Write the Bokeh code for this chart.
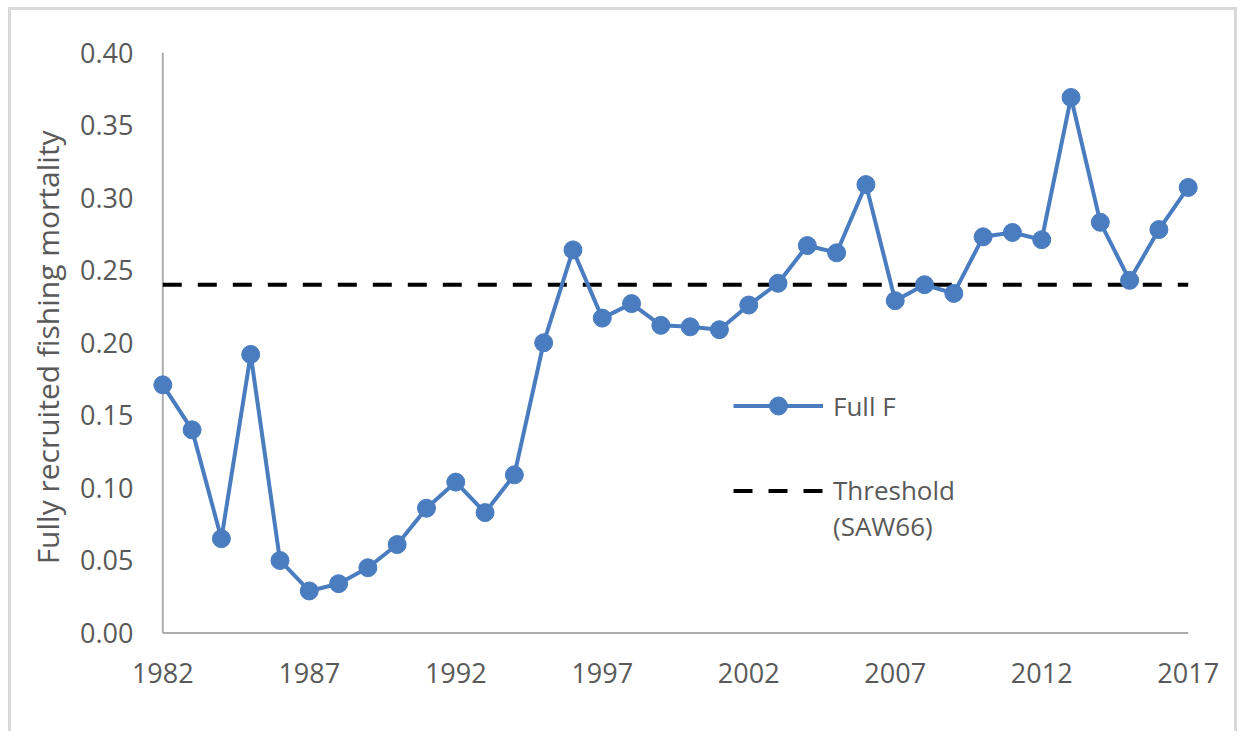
from bokeh.plotting import figure
from bokeh.models import Range1d, FixedTicker, NumeralTickFormatter, Legend, LegendItem
from bokeh.embed import file_html
from bokeh.resources import INLINE

years = list(range(1982, 2018))
full_f = [0.171, 0.140, 0.065, 0.192, 0.050, 0.029, 0.034, 0.045, 0.061, 0.086,
          0.104, 0.083, 0.109, 0.200, 0.264, 0.217, 0.227, 0.212, 0.211, 0.209,
          0.226, 0.241, 0.267, 0.262, 0.309, 0.229, 0.240, 0.234, 0.273, 0.276,
          0.271, 0.369, 0.283, 0.243, 0.278, 0.307]
threshold = 0.24
x_ticks = [1982, 1987, 1992, 1997, 2002, 2007, 2012, 2017]
y_ticks = [0.0, 0.05, 0.10, 0.15, 0.20, 0.25, 0.30, 0.35, 0.40]
y_title = "Fully recruited  fishing mortality"
series_name = "Full F"
threshold_name = ["Threshold", "(SAW66)"]

BLUE = "#4A7CC0"
TXT = "#595959"
AXC = "#ADADAD"
FONT = "Open Sans"

p = figure(width=1229, height=724, output_backend="svg", toolbar_location=None,
           title=None,
           x_range=Range1d(years[0] - 1, years[-1] + 1),
           y_range=Range1d(-0.001, y_ticks[-1]),
           min_border_left=122, min_border_right=23, min_border_top=42, min_border_bottom=100,
           background_fill_color="white", border_fill_color="white",
           outline_line_color=None,
           styles={"margin-left": "8px", "margin-top": "7px",
                   "border-left": "3px solid #D9D9D9", "border-top": "3px solid #D9D9D9",
                   "border-right": "3px solid #D9D9D9"})

p.xgrid.visible = False
p.ygrid.visible = False

for ax in (p.xaxis[0], p.yaxis[0]):
    ax.axis_line_color = None
    ax.major_tick_line_color = None
    ax.minor_tick_line_color = None
    ax.major_tick_out = 0
    ax.major_tick_in = 0
    ax.minor_tick_out = 0
    ax.major_label_text_font = FONT
    ax.major_label_text_font_size = "27px"
    ax.major_label_text_color = TXT

p.xaxis.ticker = FixedTicker(ticks=x_ticks)
p.xaxis.major_label_standoff = 28
p.yaxis.ticker = FixedTicker(ticks=y_ticks)
p.yaxis.formatter = NumeralTickFormatter(format="0.00")
p.yaxis.major_label_standoff = 0
p.yaxis.axis_label = y_title
p.yaxis.axis_label_text_font = FONT
p.yaxis.axis_label_text_font_size = "30px"
p.yaxis.axis_label_text_font_style = "normal"
p.yaxis.axis_label_text_color = TXT
p.yaxis.axis_label_standoff = 9

# axis lines drawn over the data extent
p.line(x=[years[0], years[-1]], y=[0, 0], line_color=AXC, line_width=2)
p.line(x=[years[0], years[0]], y=[0, y_ticks[-1]], line_color=AXC, line_width=2)

r_thr = p.line(x=[years[0], years[-1]], y=[threshold, threshold], line_color="black",
               line_width=4, line_dash="19 16")
r_line = p.line(x=years, y=full_f, line_color=BLUE, line_width=4)
r_pts = p.scatter(x=years, y=full_f, size=18, fill_color=BLUE, line_color=BLUE)
r_dummy = p.line(x=[years[0], years[-1]], y=[threshold, threshold], line_alpha=0)

def style_legend(lg):
    lg.border_line_alpha = 0
    lg.background_fill_alpha = 0
    lg.padding = 0
    lg.margin = 0
    lg.spacing = 0
    lg.glyph_width = 90
    lg.label_standoff = 10
    lg.label_text_font = FONT
    lg.label_text_font_size = "26px"
    lg.label_text_color = TXT

lg1 = Legend(items=[LegendItem(label=series_name, renderers=[r_line, r_pts])],
             location=(600, 206))
style_legend(lg1)
lg1.glyph_height = 45
lg1.label_height = 20

lg2 = Legend(items=[LegendItem(label=threshold_name[0], renderers=[r_thr]),
                    LegendItem(label=threshold_name[1], renderers=[r_dummy])],
             location=(600, 90))
style_legend(lg2)
lg2.glyph_height = 33
lg2.label_height = 33
lg2.spacing = -6

p.add_layout(lg1, "center")
p.add_layout(lg2, "center")

open("out.html", "w").write(file_html(p, INLINE))
